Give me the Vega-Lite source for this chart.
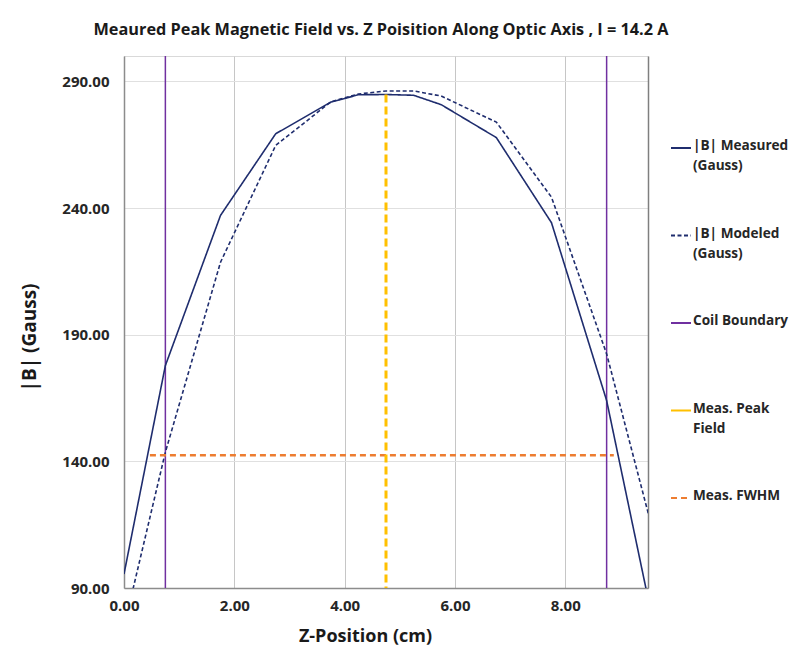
{
  "$schema": "https://vega.github.io/schema/vega-lite/v6.json",
  "width": 524,
  "height": 532,
  "autosize": {"type": "none"},
  "padding": {"left": 124, "top": 56, "right": 142, "bottom": 83},
  "background": "white",
  "config": {
    "view": {"stroke": "#d9d9d9", "strokeWidth": 1},
    "font": "Open Sans"
  },
  "title": {
    "text": "Meaured Peak Magnetic Field vs. Z Poisition Along Optic Axis , I = 14.2 A",
    "font": "Open Sans",
    "fontSize": 16.3,
    "fontWeight": "bold",
    "color": "#1a1a1a",
    "anchor": "middle",
    "offset": 17,
    "dx": -5
  },
  "datasets": {
    "profile": [
      {"series": "|B| Measured (Gauss)", "z": 0.0, "B": 95.5},
      {"series": "|B| Measured (Gauss)", "z": 0.75, "B": 177.8},
      {"series": "|B| Measured (Gauss)", "z": 1.75, "B": 237.1},
      {"series": "|B| Measured (Gauss)", "z": 2.75, "B": 269.3},
      {"series": "|B| Measured (Gauss)", "z": 3.75, "B": 281.8},
      {"series": "|B| Measured (Gauss)", "z": 4.25, "B": 284.7},
      {"series": "|B| Measured (Gauss)", "z": 4.75, "B": 284.8},
      {"series": "|B| Measured (Gauss)", "z": 5.25, "B": 284.5},
      {"series": "|B| Measured (Gauss)", "z": 5.75, "B": 280.8},
      {"series": "|B| Measured (Gauss)", "z": 6.75, "B": 267.8},
      {"series": "|B| Measured (Gauss)", "z": 7.75, "B": 234.2},
      {"series": "|B| Measured (Gauss)", "z": 8.75, "B": 164.0},
      {"series": "|B| Measured (Gauss)", "z": 9.75, "B": 60.0},
      {"series": "|B| Modeled (Gauss)", "z": 0.0, "B": 74.6},
      {"series": "|B| Modeled (Gauss)", "z": 0.75, "B": 143.6},
      {"series": "|B| Modeled (Gauss)", "z": 1.75, "B": 218.6},
      {"series": "|B| Modeled (Gauss)", "z": 2.75, "B": 264.7},
      {"series": "|B| Modeled (Gauss)", "z": 3.75, "B": 281.9},
      {"series": "|B| Modeled (Gauss)", "z": 4.25, "B": 285.0},
      {"series": "|B| Modeled (Gauss)", "z": 4.75, "B": 286.2},
      {"series": "|B| Modeled (Gauss)", "z": 5.25, "B": 286.2},
      {"series": "|B| Modeled (Gauss)", "z": 5.75, "B": 284.2},
      {"series": "|B| Modeled (Gauss)", "z": 6.75, "B": 273.9},
      {"series": "|B| Modeled (Gauss)", "z": 7.75, "B": 244.3},
      {"series": "|B| Modeled (Gauss)", "z": 8.75, "B": 182.4},
      {"series": "|B| Modeled (Gauss)", "z": 9.75, "B": 99.0}
    ],
    "coil": [
      {"series": "Coil Boundary", "z": 0.75},
      {"series": "Coil Boundary", "z": 8.75}
    ],
    "peak": [
      {"series": "Meas. Peak Field", "z": 4.75, "B": 284.8, "B0": 90}
    ],
    "fwhm": [
      {"series": "Meas. FWHM", "z": 0.47, "z2": 8.88, "B": 142.4}
    ]
  },
  "encoding": {
    "x": {
      "field": "z",
      "type": "quantitative",
      "title": "Z-Position (cm)",
      "scale": {"domain": [0, 9.5], "nice": false, "zero": false},
      "axis": {
        "values": [0, 2, 4, 6, 8],
        "format": ".2f",
        "labelFont": "Open Sans",
        "labelFontWeight": "bold",
        "labelFontSize": 15,
        "labelColor": "#262626",
        "labelPadding": 10,
        "labelFlush": false,
        "ticks": false,
        "domainColor": "#8c8c8c",
        "domainWidth": 1.5,
        "gridColor": "#c6c6c6",
        "gridWidth": 1,
        "titleFont": "Open Sans",
        "titleFontSize": 18,
        "titleFontWeight": "bold",
        "titleColor": "#1a1a1a",
        "titlePadding": 14,
        "titleX": 241
      }
    },
    "color": {
      "field": "series",
      "type": "nominal",
      "scale": {
        "domain": ["|B| Measured (Gauss)", "|B| Modeled (Gauss)", "Coil Boundary", "Meas. Peak Field", "Meas. FWHM"],
        "range": ["#1f2d6e", "#1f2d6e", "#7030a0", "#ffc000", "#ed7d31"]
      },
      "legend": {
        "orient": "none",
        "legendX": 546,
        "legendY": 81,
        "title": null,
        "symbolType": "stroke",
        "symbolSize": 400,
        "symbolStrokeWidth": 2,
        "labelFont": "Open Sans",
        "labelFontWeight": "bold",
        "labelFontSize": 13.6,
        "labelColor": "#262626",
        "labelLimit": 200,
        "labelOffset": 1,
        "labelBaseline": "top",
        "gridAlign": "all",
        "rowPadding": 51.5,
        "labelExpr": "datum.label === '|B| Measured (Gauss)' ? ['|B| Measured', '(Gauss)'] : datum.label === '|B| Modeled (Gauss)' ? ['|B| Modeled', '(Gauss)'] : datum.label === 'Meas. Peak Field' ? ['Meas. Peak', 'Field'] : datum.label",
        "encode": {
          "labels": {"update": {"dy": {"value": -9}, "lineHeight": {"value": 20}}}
        }
      }
    }
  },
  "layer": [
    {
      "data": {"name": "coil"},
      "mark": {"type": "rule", "strokeWidth": 1.5},
      "encoding": {}
    },
    {
      "data": {"name": "profile"},
      "mark": {"type": "line", "strokeWidth": 1.6, "clip": true},
      "encoding": {
        "y": {
          "field": "B",
          "type": "quantitative",
          "title": "|B| (Gauss)",
          "scale": {"domain": [90, 300], "nice": false, "zero": false},
          "axis": {
            "values": [90, 140, 190, 240, 290],
            "format": ".2f",
            "labelFont": "Open Sans",
            "labelFontWeight": "bold",
            "labelFontSize": 15,
            "labelColor": "#262626",
            "labelPadding": 15,
            "labelFlush": false,
            "ticks": false,
            "domainColor": "#8c8c8c",
            "domainWidth": 1.5,
            "gridColor": "#e0e0e0",
            "gridWidth": 1,
            "titleFont": "Open Sans",
            "titleFontSize": 19,
            "titleFontWeight": "bold",
            "titleColor": "#1a1a1a",
            "titlePadding": 22,
            "titleY": 281
          }
        },
        "strokeDash": {
          "field": "series",
          "type": "nominal",
          "scale": {
            "domain": ["|B| Measured (Gauss)", "|B| Modeled (Gauss)", "Coil Boundary", "Meas. Peak Field", "Meas. FWHM"],
            "range": [[1, 0], [4, 2.5], [1, 0], [1, 0], [6, 4]]
          }
        }
      }
    },
    {
      "data": {"name": "fwhm"},
      "mark": {"type": "rule", "strokeWidth": 2.5},
      "encoding": {
        "x2": {"field": "z2"},
        "y": {"field": "B", "type": "quantitative", "axis": null},
        "strokeDash": {"field": "series", "type": "nominal"}
      }
    },
    {
      "data": {"name": "peak"},
      "mark": {"type": "rule", "strokeWidth": 3, "strokeDash": [8, 4]},
      "encoding": {
        "y": {
          "field": "B",
          "type": "quantitative",
          "axis": {"orient": "right", "labels": false, "ticks": false, "grid": false, "title": null, "domainColor": "#7f7f7f", "domainWidth": 1.5}
        },
        "y2": {"field": "B0"}
      }
    }
  ],
  "resolve": {"axis": {"y": "independent"}}
}
